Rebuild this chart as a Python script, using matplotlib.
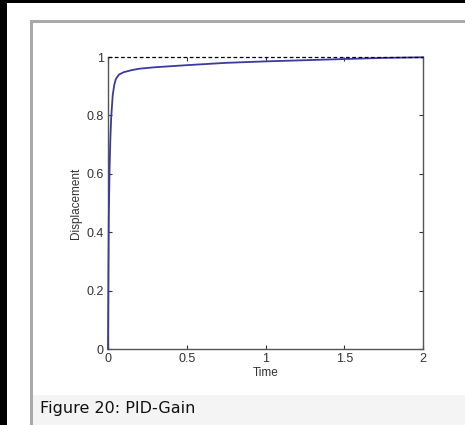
import matplotlib
matplotlib.use('Agg')
import matplotlib.pyplot as plt
from matplotlib.patches import Rectangle

## Step response of the PID-tuned system.
time = [0, 0.002, 0.005, 0.01, 0.015, 0.02, 0.03, 0.04, 0.05, 0.07, 0.1,
        0.15, 0.2, 0.3, 0.5, 0.75, 1.0, 1.25, 1.5, 1.75, 2.0]
displacement = [0, 0.2, 0.45, 0.62, 0.72, 0.79, 0.87, 0.905, 0.925, 0.94,
                0.948, 0.955, 0.96, 0.965, 0.972, 0.98, 0.985, 0.989, 0.993,
                0.997, 0.999]
setpoint = [1, 1]
setpoint_time = [0, 2]

x_ticks = [0, 0.5, 1, 1.5, 2]
x_tick_labels = ['0', '0.5', '1', '1.5', '2']
y_ticks = [0, 0.2, 0.4, 0.6, 0.8, 1]
y_tick_labels = ['0', '0.2', '0.4', '0.6', '0.8', '1']
caption = 'Figure 20: PID-Gain'

W, H = 465, 425
fig = plt.figure(figsize=(W / 100, H / 100), dpi=100)
fig.patch.set_facecolor('white')

def px_rect(x0, y0, x1, y1, color):
  ## Rectangle given in pixel coords, measured from the top-left corner.
  fig.add_artist(Rectangle((x0 / W, 1 - y1 / H), (x1 - x0) / W, (y1 - y0) / H,
                           transform=fig.transFigure, facecolor=color,
                           edgecolor='none', zorder=-5))

## Page decorations round the figure.
px_rect(0, 0, 7, H, 'black')
px_rect(0, 0, W, 3, 'black')
px_rect(30, 20, W, 23, '#a9a9a9')
px_rect(30, 20, 33, H, '#a9a9a9')
px_rect(33, 395, W, H, '#f4f4f4')
fig.text(40 / W, 1 - 409 / H, caption, fontsize=11.5, family='DejaVu Sans',
         color='#111111', ha='left', va='center')

ax = fig.add_axes([108 / W, 1 - 349 / H, 315 / W, 292 / H])
ax.plot(setpoint_time, setpoint, color='black', lw=0.9, dashes=(3, 2),
        clip_on=False, zorder=4)
ax.plot(time, displacement, color='#3a3aa0', lw=1.3, clip_on=False, zorder=3)

ax.set_xlim(0, 2)
ax.set_ylim(0, 1)
ax.set_xticks(x_ticks)
ax.set_xticklabels(x_tick_labels)
ax.set_yticks(y_ticks)
ax.set_yticklabels(y_tick_labels)

for side in ax.spines.values():
  side.set_color('#555555')
  side.set_linewidth(1.0)
ax.spines['top'].set_visible(False)
ax.tick_params(direction='in', length=3, width=0.8, color='#333333',
               top=True, right=True, labelsize=9, labelcolor='#333333',
               pad=3)
for lab in ax.get_xticklabels() + ax.get_yticklabels():
  lab.set_family('Liberation Sans')

ax.set_xlabel('Time', fontsize=8.5, family='Liberation Sans', color='#333333',
              labelpad=1)
ax.set_ylabel('Displacement', fontsize=8.5, family='Liberation Sans',
              color='#333333', labelpad=3)

fig.savefig('out.png', dpi=100)
